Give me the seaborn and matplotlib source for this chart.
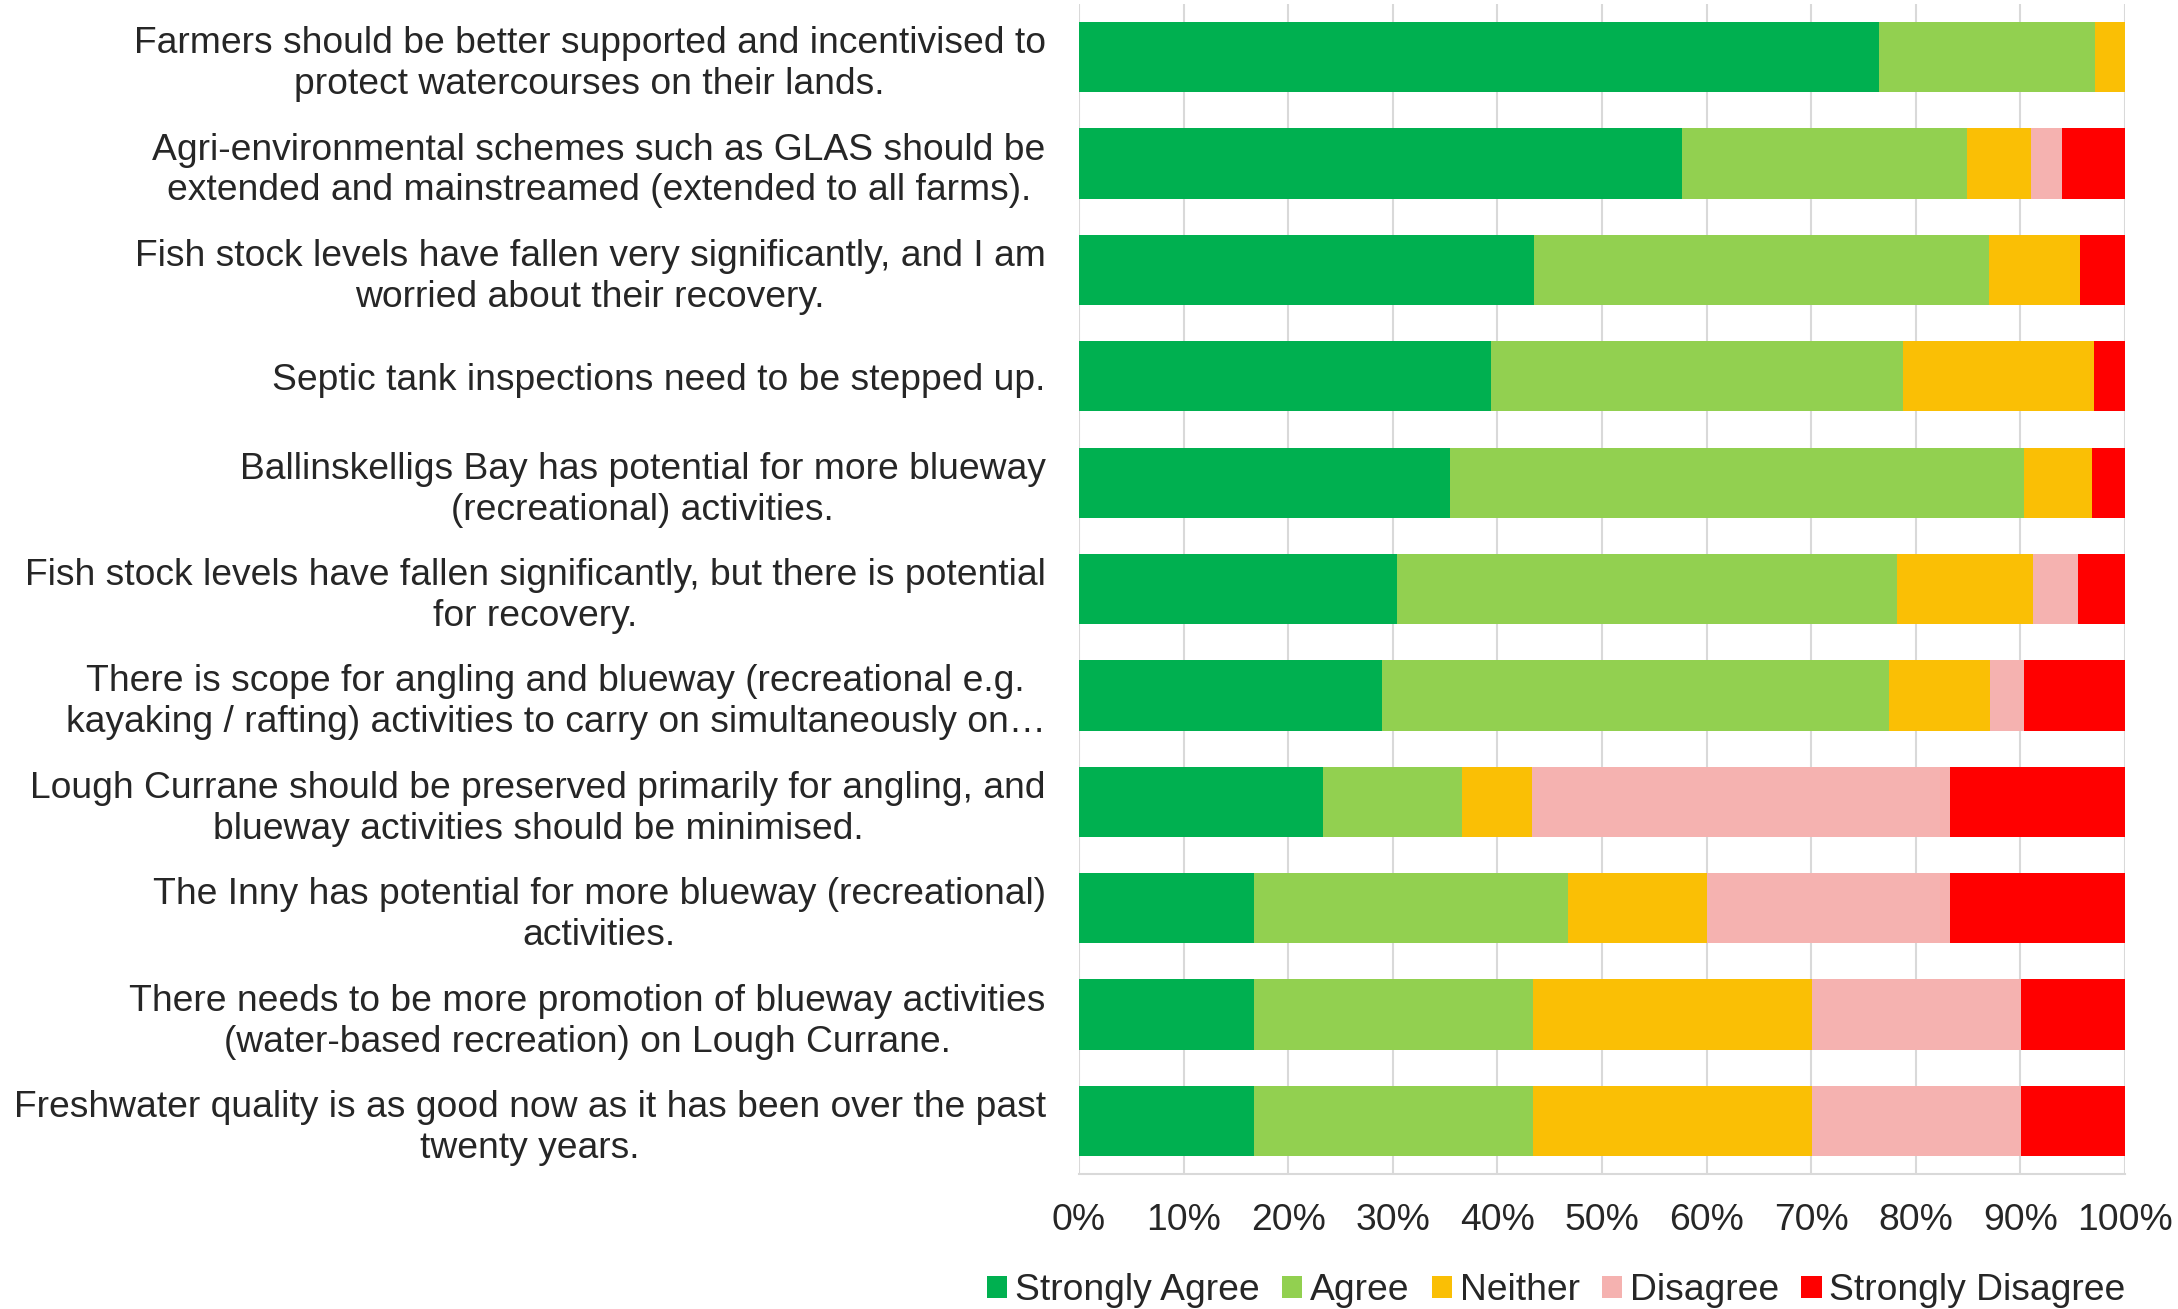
import numpy as np
import pandas as pd
import matplotlib
matplotlib.use("Agg")
import matplotlib.pyplot as plt
import seaborn as sns

statements = [
    "Farmers should be better supported and incentivised to\nprotect watercourses on their lands.",
    "Agri-environmental schemes such as GLAS should be\nextended and mainstreamed (extended to all farms).",
    "Fish stock levels have fallen very significantly, and I am\nworried about their recovery.",
    "Septic tank inspections need to be stepped up.",
    "Ballinskelligs Bay has potential for more blueway\n(recreational) activities.",
    "Fish stock levels have fallen significantly, but there is potential\nfor recovery.",
    "There is scope for angling and blueway (recreational e.g.\nkayaking / rafting) activities to carry on simultaneously on\u2026",
    "Lough Currane should be preserved primarily for angling, and\nblueway activities should be minimised.",
    "The Inny has potential for more blueway (recreational)\nactivities.",
    "There needs to be more promotion of blueway activities\n(water-based recreation) on Lough Currane.",
    "Freshwater quality is as good now as it has been over the past\ntwenty years.",
]

# shares in percent
strongly_agree    = [76.5, 57.6, 43.5, 39.4, 35.5, 30.4, 29.0, 23.3, 16.7, 16.7, 16.7]
agree             = [20.6, 27.3, 43.5, 39.4, 54.8, 47.8, 48.4, 13.3, 30.0, 26.7, 26.7]
neither           = [2.9, 6.1, 8.7, 18.2, 6.5, 13.0, 9.7, 6.7, 13.3, 26.7, 26.7]
disagree          = [0.0, 3.0, 0.0, 0.0, 0.0, 4.3, 3.2, 40.0, 23.3, 20.0, 20.0]
strongly_disagree = [0.0, 6.0, 4.3, 3.0, 3.2, 4.5, 9.7, 16.7, 16.7, 10.0, 10.0]

responses = ["Strongly Agree", "Agree", "Neither", "Disagree", "Strongly Disagree"]
colors = ["#00B050", "#92D050", "#FABF05", "#F5B2B0", "#FF0000"]

df = pd.DataFrame({
    "statement": statements,
    "Strongly Agree": strongly_agree,
    "Agree": agree,
    "Neither": neither,
    "Disagree": disagree,
    "Strongly Disagree": strongly_disagree,
})
# normalise each row to 100 and build cumulative ends for stacking
vals = df[responses].to_numpy()
vals = vals / vals.sum(axis=1, keepdims=True) * 100
cum = np.cumsum(vals, axis=1)

sns.set_style("white")
plt.rcParams["font.family"] = ["Liberation Sans", "DejaVu Sans"]

fig, ax = plt.subplots(figsize=(21.78, 13.09), dpi=100)
fig.subplots_adjust(left=0.4954, right=0.9757, top=0.997, bottom=0.103)

# draw widest cumulative first so shorter layers sit on top
for i in range(len(responses) - 1, -1, -1):
    sns.barplot(x=cum[:, i], y=df["statement"], orient="h", color=colors[i],
                width=0.66, linewidth=0, saturation=1, ax=ax, label=responses[i])

ax.set_xlim(0, 100)
ax.set_ylim(10.5, -0.5)
ax.set_xticks(np.arange(0, 101, 10))
ax.set_xticklabels([f"{t}%" for t in range(0, 101, 10)])
ax.set_axisbelow(True)
ax.grid(axis="x", color="#D9D9D9", linewidth=1.5)
ax.set_xlabel("")
ax.set_ylabel("")
for s in ["top", "right", "left"]:
    ax.spines[s].set_visible(False)
ax.spines["bottom"].set_color("#D9D9D9")
ax.spines["bottom"].set_linewidth(1.5)
ax.tick_params(axis="x", length=0, pad=21, labelsize=26.8)
ax.tick_params(axis="y", length=0, pad=24, labelsize=26.8)
for lab in ax.get_yticklabels():
    lab.set_multialignment("center")
    lab.set_linespacing(1.22)

handles, labels = ax.get_legend_handles_labels()
order = [labels.index(r) for r in responses]
ax.legend([handles[k] for k in order], responses, loc="lower center",
          bbox_to_anchor=(0.7145, -0.025), bbox_transform=fig.transFigure,
          ncol=5, frameon=False, fontsize=26.8, handlelength=0.55, handleheight=0.55,
          handletextpad=0.2, columnspacing=0.6)

fig.savefig("out.png", dpi=100)
